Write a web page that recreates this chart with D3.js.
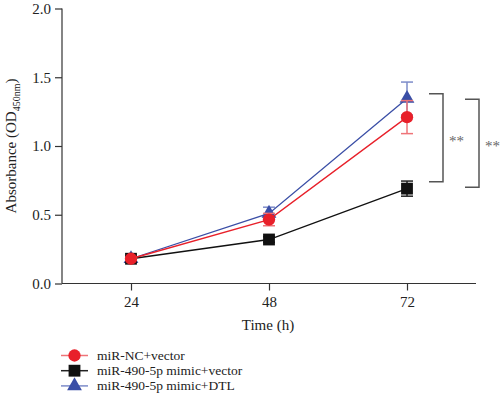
<!DOCTYPE html>
<html lang="en">
<head>
<meta charset="utf-8"/>
<title>CCK-8 absorbance</title>
<script src="https://d3js.org/d3.v7.min.js"></script>
<style>
  body { margin: 0; background: #fff; }
  svg text { font-family: "Liberation Serif", "Times New Roman", serif; fill: #222; }
  .axis path, .axis line { stroke: #333; stroke-width: 1.2px; }
  .axis text { font-size: 15px; font-family: "Liberation Serif", serif; fill: #222; }
</style>
</head>
<body>
<div id="chart"></div>
<script>
// ---- data ----
var hours = [24, 48, 72];
var seriesNames = ["miR-NC+vector", "miR-490-5p mimic+vector", "miR-490-5p mimic+DTL"];
var ncVector = [0.18, 0.465, 1.21];
var ncVectorErr = [0.01, 0.045, 0.12];
var mimicVector = [0.18, 0.32, 0.69];
var mimicVectorErr = [0.01, 0.02, 0.055];
var mimicDtl = [0.18, 0.51, 1.345];
var mimicDtlErr = [0.01, 0.045, 0.12];
var yTicks = [0, 0.5, 1.0, 1.5, 2.0];
// significance brackets: [top, bottom] in absorbance units
var brackets = [[1.38, 0.74], [1.34, 0.70]];

var width = 500, height = 398;

var svg = d3.select("#chart").append("svg")
  .attr("width", width)
  .attr("height", height);

var x = d3.scaleLinear().domain([12, 84]).range([62, 476]);
var y = d3.scaleLinear().domain([0, 2]).range([283.5, 8.5]);

// axes
svg.append("g")
  .attr("class", "axis")
  .attr("transform", "translate(62,0)")
  .call(d3.axisLeft(y).tickValues(yTicks).tickFormat(d3.format(".1f")).tickSize(7).tickPadding(4))
  .call(function(g) { g.select(".domain").attr("d", "M0," + y(0) + "V" + y(2)); });

svg.append("g")
  .attr("class", "axis")
  .attr("transform", "translate(0," + y(0) + ")")
  .call(d3.axisBottom(x).tickValues(hours).tickSize(7).tickPadding(6))
  .call(function(g) { g.select(".domain").attr("d", "M62,0H476"); });

svg.append("text")
  .attr("x", 268).attr("y", 330)
  .attr("text-anchor", "middle")
  .style("font-size", "15px")
  .text("Time (h)");

var ylab = svg.append("text")
  .attr("transform", "translate(16,146) rotate(-90)")
  .attr("text-anchor", "middle")
  .style("font-size", "15px");
ylab.append("tspan").text("Absorbance (OD");
ylab.append("tspan").attr("dy", 4).style("font-size", "10px").text("450nm");
ylab.append("tspan").attr("dy", -4).text(")");

// series, drawn so red sits on top like the original
var series = [
  { name: seriesNames[2], values: mimicDtl, err: mimicDtlErr, color: "#3a4ea6", errColor: "#7d8cc9", symbol: d3.symbolTriangle, size: 95 },
  { name: seriesNames[1], values: mimicVector, err: mimicVectorErr, color: "#111111", errColor: "#222222", symbol: d3.symbolSquare, size: 140 },
  { name: seriesNames[0], values: ncVector, err: ncVectorErr, color: "#e8202a", errColor: "#ef7478", symbol: d3.symbolCircle, size: 120 }
];

var line = d3.line()
  .x(function(d) { return x(d.h); })
  .y(function(d) { return y(d.v); });

series.forEach(function(s) {
  var pts = hours.map(function(h, i) { return { h: h, v: s.values[i], e: s.err[i] }; });
  var g = svg.append("g");

  g.append("path")
    .datum(pts)
    .attr("fill", "none")
    .attr("stroke", s.color)
    .attr("stroke-width", 1.3)
    .attr("d", line);

  var eb = g.selectAll(".err").data(pts).enter().append("g").attr("stroke", s.errColor).attr("stroke-width", 1.5);
  eb.append("line")
    .attr("x1", function(d) { return x(d.h); }).attr("x2", function(d) { return x(d.h); })
    .attr("y1", function(d) { return y(d.v + d.e); }).attr("y2", function(d) { return y(d.v - d.e); });
  eb.append("line")
    .attr("x1", function(d) { return x(d.h) - 6; }).attr("x2", function(d) { return x(d.h) + 6; })
    .attr("y1", function(d) { return y(d.v + d.e); }).attr("y2", function(d) { return y(d.v + d.e); });
  eb.append("line")
    .attr("x1", function(d) { return x(d.h) - 6; }).attr("x2", function(d) { return x(d.h) + 6; })
    .attr("y1", function(d) { return y(d.v - d.e); }).attr("y2", function(d) { return y(d.v - d.e); });

  g.selectAll(".pt").data(pts).enter().append("path")
    .attr("transform", function(d) { return "translate(" + x(d.h) + "," + y(d.v) + ")"; })
    .attr("d", d3.symbol().type(s.symbol).size(s.size))
    .attr("fill", s.color);
});

// significance brackets
var bx = [[429, 443], [465, 479]];
brackets.forEach(function(b, i) {
  svg.append("path")
    .attr("fill", "none")
    .attr("stroke", "#555")
    .attr("stroke-width", 1.5)
    .attr("d", "M" + bx[i][0] + "," + y(b[0]) + "H" + bx[i][1] + "V" + y(b[1]) + "H" + bx[i][0]);
  svg.append("text")
    .attr("x", bx[i][1] + 6)
    .attr("y", (y(b[0]) + y(b[1])) / 2 + 8)
    .style("font-size", "15px")
    .style("fill", "#666")
    .text("**");
});

// legend
var legendOrder = [series[2], series[1], series[0]];
var lg = svg.selectAll(".legend").data(legendOrder).enter().append("g")
  .attr("transform", function(d, i) { return "translate(0," + (355.5 + i * 15.2) + ")"; });
lg.append("line")
  .attr("x1", 61).attr("x2", 88)
  .attr("stroke", function(d) { return d.errColor; })
  .attr("stroke-width", 1.5);
lg.append("path")
  .attr("transform", "translate(74.5,0)")
  .attr("d", function(d) { return d3.symbol().type(d.symbol).size(d.size)(); })
  .attr("fill", function(d) { return d.color; });
lg.append("text")
  .attr("x", 97).attr("y", 4.5)
  .style("font-size", "13.5px")
  .text(function(d) { return d.name; });
</script>
</body>
</html>
